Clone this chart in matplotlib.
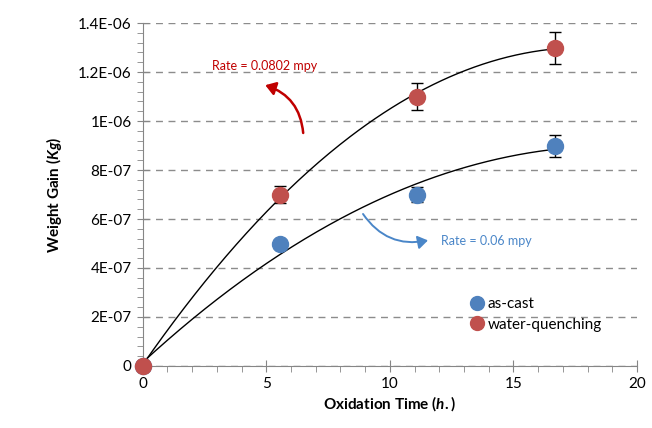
import matplotlib
matplotlib.use('Agg')
import matplotlib.pyplot as plt
import numpy as np
from matplotlib.patches import FancyArrowPatch
from matplotlib.lines import Line2D
from matplotlib.ticker import MultipleLocator

# Oxidation time (h) and weight gain (kg)
time_h = [0, 5.55, 11.1, 16.7]
as_cast = [0, 5.0e-7, 7.0e-7, 9.0e-7]
as_cast_err = [0, 0.02e-7, 0.3e-7, 0.45e-7]
water_quench = [0, 7.0e-7, 1.1e-6, 1.3e-6]
water_quench_err = [0, 0.35e-7, 0.55e-7, 0.65e-7]

y_ticks = [0, 2e-7, 4e-7, 6e-7, 8e-7, 1e-6, 1.2e-6, 1.4e-6]
y_tick_labels = ['0', '2E-07', '4E-07', '6E-07', '8E-07', '1E-06', '1.2E-06', '1.4E-06']

blue = '#4F81BD'
red = '#C0504D'
plt.rcParams['font.family'] = ['Lato', 'DejaVu Sans']
plt.rcParams['mathtext.fontset'] = 'custom'
plt.rcParams['mathtext.it'] = 'Lato:bold:italic'
plt.rcParams['mathtext.rm'] = 'Lato:bold'

fig = plt.figure(figsize=(6.52, 4.28), dpi=100)
ax = fig.add_axes([0.219, 0.145, 0.758, 0.801])

# second-order trendlines
xs = np.linspace(0, time_h[-1], 200)
for series in (as_cast, water_quench):
    coef = np.polyfit(time_h, series, 2)
    ax.plot(xs, np.polyval(coef, xs), color='black', lw=1.0, zorder=2)

for series, err, col, z in ((as_cast, as_cast_err, blue, 3), (water_quench, water_quench_err, red, 4)):
    ax.errorbar(time_h, series, yerr=err, fmt='none', ecolor='black', elinewidth=1,
                capsize=4, capthick=1, zorder=z)
    ax.plot(time_h, series, 'o', color=col, ms=11.5, zorder=z, clip_on=False)

ax.set_xlim(0, 20)
ax.set_ylim(0, 1.4e-6)
ax.set_yticks(y_ticks)
ax.set_yticklabels(y_tick_labels)
ax.xaxis.set_major_locator(MultipleLocator(5))
ax.xaxis.set_minor_locator(MultipleLocator(1))
ax.yaxis.set_minor_locator(MultipleLocator(0.4e-7))
ax.tick_params(which='major', direction='inout', length=8, color='#868686', labelsize=11, pad=4)
ax.tick_params(which='minor', direction='out', length=4, color='#868686')

for s in ('top', 'right'):
    ax.spines[s].set_visible(False)
for s in ('left', 'bottom'):
    ax.spines[s].set_color('#868686')
ax.grid(axis='y', ls=(0, (5, 4)), color='#8c8c8c', lw=1)
ax.set_axisbelow(True)

ax.set_xlabel('Oxidation Time ($h.$)', fontsize=11, fontweight='bold', labelpad=2)
ax.set_ylabel('Weight Gain ($Kg$)', fontsize=11, fontweight='bold', labelpad=10)

# rate annotations
ax.text(4.95, 1.225e-6, 'Rate = 0.0802 mpy', color='#C00000', fontsize=9, ha='center', va='center')
ax.add_patch(FancyArrowPatch((6.5, 0.94e-6), (4.85, 1.15e-6), connectionstyle='arc3,rad=0.35',
                             arrowstyle='-|>,head_length=6,head_width=4', color='#C00000', lw=1.8,
                             mutation_scale=1))
ax.text(12.05, 5.1e-7, 'Rate = 0.06 mpy', color='#4A86C8', fontsize=9, ha='left', va='center')
ax.add_patch(FancyArrowPatch((8.85, 6.3e-7), (11.65, 5.15e-7), connectionstyle='arc3,rad=0.35',
                             arrowstyle='-|>,head_length=6,head_width=4', color='#4A86C8', lw=1.4,
                             mutation_scale=1))

handles = [Line2D([], [], ls='none', marker='o', color=blue, ms=10),
           Line2D([], [], ls='none', marker='o', color=red, ms=10)]
ax.legend(handles, ['as-cast', 'water-quenching'],
          loc='upper left', bbox_to_anchor=(0.63, 0.24), frameon=False, fontsize=11,
          handletextpad=0.1, handlelength=1.2, labelspacing=0.4)

fig.savefig('out.png', dpi=100)
